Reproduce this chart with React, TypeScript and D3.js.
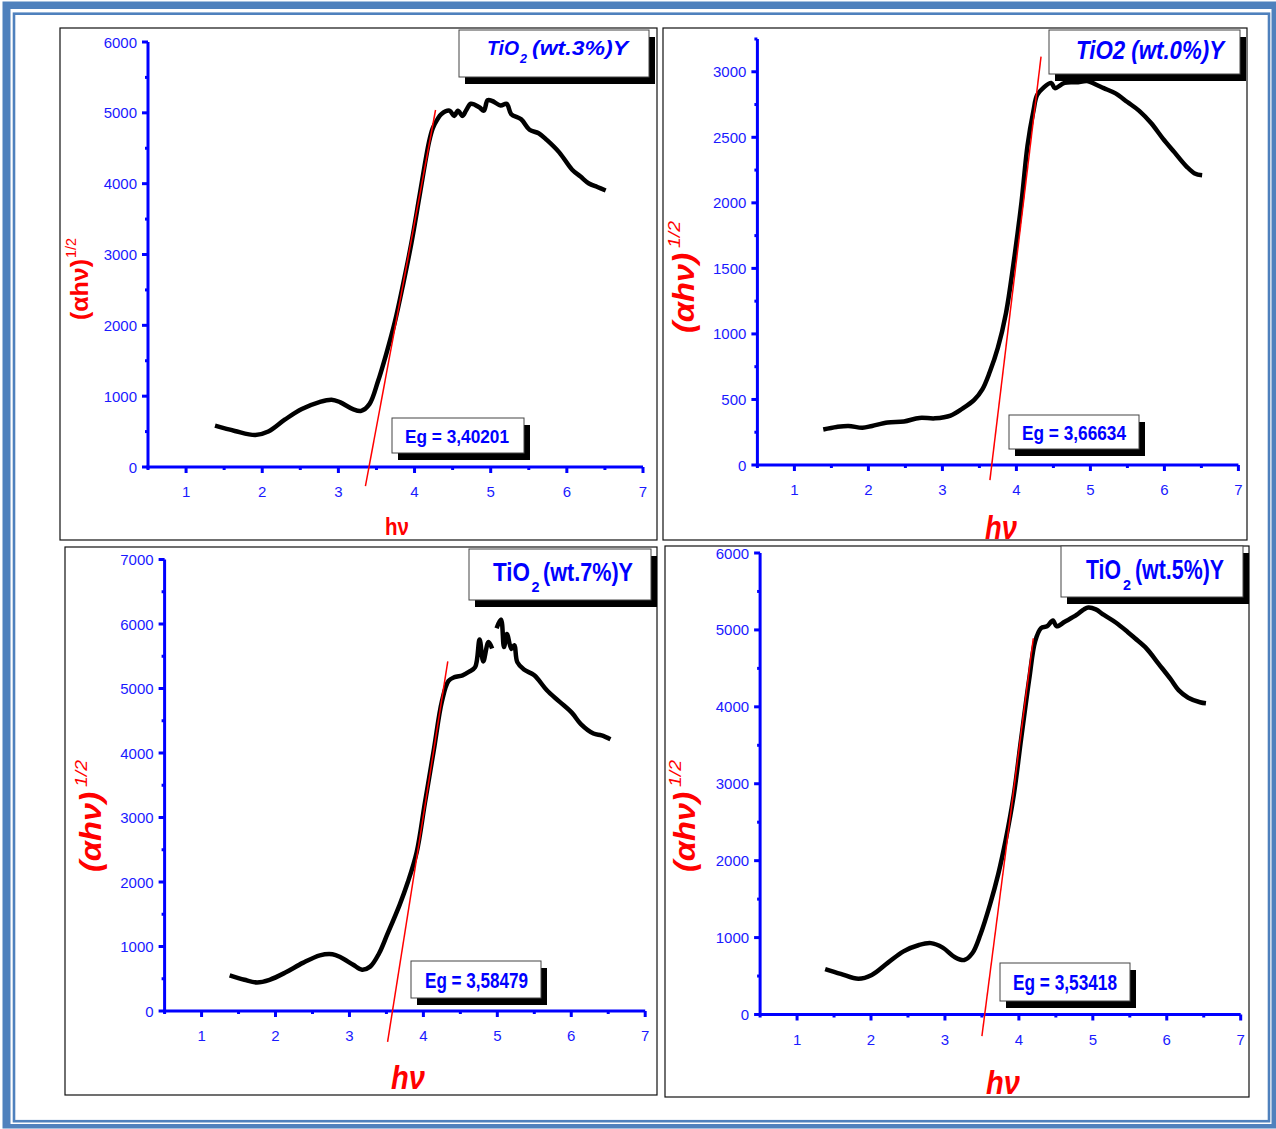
import React from 'react';
import * as d3 from 'd3';

// ---------- DATA ----------
const xTicks = [1, 2, 3, 4, 5, 6, 7];

// TiO2 (wt.3%)Y
const hv3 = [1.38, 1.64, 1.91, 2.08, 2.30, 2.52, 2.75, 2.91, 3.02, 3.19, 3.30, 3.41, 3.52, 3.63, 3.74, 3.85, 3.96, 4.07, 4.19, 4.24, 4.30, 4.35, 4.46, 4.52, 4.57, 4.63, 4.68, 4.74, 4.85, 4.91, 4.96, 5.02, 5.13, 5.21, 5.27, 5.40, 5.51, 5.63, 5.74, 5.90, 6.07, 6.18, 6.29, 6.40, 6.51];
const val3 = [583, 509, 451, 500, 671, 818, 916, 950, 916, 818, 793, 891, 1210, 1602, 2042, 2581, 3169, 3855, 4589, 4785, 4908, 4981, 5030, 4957, 5030, 4957, 5040, 5128, 5079, 5030, 5177, 5167, 5104, 5128, 4981, 4908, 4761, 4712, 4614, 4442, 4197, 4100, 4002, 3953, 3904];
const yTicks3 = [0, 1000, 2000, 3000, 4000, 5000, 6000];
const fitX3 = [3.355, 4.276];
const fitY3 = [-270, 5040];
const eg3 = 'Eg = 3,40201';

// TiO2 (wt.0%)Y
const hv0 = [1.39, 1.57, 1.73, 1.92, 2.05, 2.26, 2.48, 2.69, 2.90, 3.11, 3.27, 3.43, 3.54, 3.64, 3.75, 3.86, 3.96, 4.07, 4.15, 4.23, 4.28, 4.36, 4.47, 4.52, 4.65, 4.81, 4.97, 5.08, 5.18, 5.34, 5.50, 5.66, 5.82, 5.98, 6.14, 6.30, 6.41, 6.51];
const val0 = [271, 290, 298, 284, 298, 324, 332, 359, 356, 377, 430, 497, 577, 709, 895, 1161, 1533, 2011, 2436, 2702, 2822, 2875, 2915, 2875, 2915, 2920, 2928, 2901, 2875, 2835, 2769, 2702, 2609, 2490, 2383, 2277, 2224, 2211];
const yTicks0 = [0, 500, 1000, 1500, 2000, 2500, 3000];
const fitX0 = [3.642, 4.333];
const fitY0 = [-115, 3115];
const eg0 = 'Eg = 3,66634';

// TiO2 (wt.7%)Y  (null = gap in the recorded curve)
const hv7 = [1.38, 1.58, 1.75, 1.92, 2.14, 2.37, 2.60, 2.77, 2.88, 3.05, 3.17, 3.28, 3.40, 3.51, 3.68, 3.79, 3.91, 4.02, 4.14, 4.25, 4.34, 4.42, 4.53, 4.62, 4.70, 4.76, 4.81, 4.88, 4.93, 4.96, 4.99, 5.05, 5.09, 5.13, 5.19, 5.23, 5.27, 5.36, 5.50, 5.67, 5.84, 6.01, 6.13, 6.30, 6.41, 6.53];
const val7 = [554, 484, 443, 484, 600, 746, 863, 880, 834, 717, 641, 688, 892, 1183, 1650, 1999, 2466, 3223, 4040, 4797, 5118, 5176, 5205, 5260, 5330, 5759, 5420, 5720, 5620, null, 5934, 6068, 5642, 5846, 5613, 5672, 5409, 5293, 5205, 4972, 4797, 4622, 4448, 4302, 4273, 4214];
const yTicks7 = [0, 1000, 2000, 3000, 4000, 5000, 6000, 7000];
const fitX7 = [3.516, 4.33];
const fitY7 = [-478, 5421];
const eg7 = 'Eg = 3,58479';

// TiO2 (wt.5%)Y
const hv5 = [1.38, 1.59, 1.83, 2.01, 2.23, 2.44, 2.65, 2.81, 2.97, 3.13, 3.26, 3.37, 3.48, 3.61, 3.72, 3.82, 3.93, 4.03, 4.14, 4.22, 4.30, 4.38, 4.46, 4.51, 4.62, 4.78, 4.88, 4.94, 5.04, 5.15, 5.31, 5.47, 5.57, 5.73, 5.89, 6.05, 6.16, 6.29, 6.45, 6.53];
const val5 = [591, 528, 464, 513, 674, 821, 904, 928, 870, 748, 708, 796, 1041, 1432, 1822, 2262, 2849, 3581, 4363, 4852, 5023, 5047, 5121, 5047, 5106, 5194, 5267, 5291, 5267, 5194, 5096, 4974, 4891, 4754, 4559, 4363, 4217, 4119, 4060, 4046];
const yTicks5 = [0, 1000, 2000, 3000, 4000, 5000, 6000];
const fitX5 = [3.50, 4.195];
const fitY5 = [-280, 4891];
const eg5 = 'Eg = 3,53418';

// ---------- LAYOUT ----------
const BLUE = '#0000ff';
const LBLUE = '#1a1aff';
const RED = '#ff0000';
const FONT = "'Liberation Sans', Arial, Helvetica, sans-serif";

type Part = { t: string; x: number; len: number; base: number; size: number; vs: number };
type Cfg = {
  frame: [number, number, number, number];
  xl: number; xr: number; yb: number; yt: number; ymax: number; minorStep: number;
  hv: number[]; vals: (number | null)[]; yTicks: number[];
  fitX: number[]; fitY: number[]; eg: string;
  titleItalic: boolean; titleParts: Part[];
  tbox: [number, number, number, number];
  ebox: [number, number, number, number];
  egText: { x: number; len: number; base: number; size: number };
  ylab: { italic: boolean; size: number; bx: number; y0: number; len: number; ssize: number; sbx: number; sy0: number; slen: number };
  xlab: { italic: boolean; size: number; cx: number; base: number; len: number };
};

const panels: Cfg[] = [
  {
    frame: [60, 28, 657, 540], xl: 148, xr: 643, yb: 467, yt: 42, ymax: 6000, minorStep: 500,
    hv: hv3, vals: val3, yTicks: yTicks3, fitX: fitX3, fitY: fitY3, eg: eg3,
    titleItalic: true,
    titleParts: [
      { t: 'TiO', x: 487, len: 32, base: 55, size: 19, vs: 1.1 },
      { t: '2', x: 520, len: 7, base: 63, size: 12, vs: 1.1 },
      { t: '(wt.3%)Y', x: 532, len: 96, base: 55, size: 21, vs: 1 },
    ],
    tbox: [459, 30, 190, 47], ebox: [392, 418, 132, 35],
    egText: { x: 405, len: 104, base: 443, size: 19 },
    ylab: { italic: false, size: 23, bx: 88, y0: 320, len: 61, ssize: 14, sbx: 76, sy0: 258, slen: 20 },
    xlab: { italic: false, size: 24, cx: 397, base: 535, len: 24 },
  },
  {
    frame: [663, 28, 1247, 540], xl: 757.4, xr: 1238.4, yb: 465, yt: 39, ymax: 3250, minorStep: 250,
    hv: hv0, vals: val0, yTicks: yTicks0, fitX: fitX0, fitY: fitY0, eg: eg0,
    titleItalic: true,
    titleParts: [{ t: 'TiO2 (wt.0%)Y', x: 1076, len: 148, base: 59, size: 25, vs: 1 }],
    tbox: [1049, 30, 191, 44], ebox: [1009, 415, 130, 34],
    egText: { x: 1022, len: 104, base: 440, size: 21 },
    ylab: { italic: true, size: 29, bx: 694, y0: 333, len: 80, ssize: 17, sbx: 680, sy0: 248, slen: 27 },
    xlab: { italic: true, size: 33, cx: 1001, base: 539, len: 32 },
  },
  {
    frame: [65, 547, 657, 1095], xl: 164.6, xr: 645.2, yb: 1011, yt: 559.5, ymax: 7000, minorStep: 500,
    hv: hv7, vals: val7, yTicks: yTicks7, fitX: fitX7, fitY: fitY7, eg: eg7,
    titleItalic: false,
    titleParts: [
      { t: 'TiO', x: 493, len: 37, base: 581, size: 22, vs: 1.18 },
      { t: '2', x: 531.5, len: 8, base: 592, size: 14, vs: 1.1 },
      { t: '(wt.7%)Y', x: 543, len: 90, base: 581, size: 21.5, vs: 1.2 },
    ],
    tbox: [469, 549, 182, 51], ebox: [411, 961, 130, 37],
    egText: { x: 425, len: 103, base: 988, size: 22 },
    ylab: { italic: true, size: 29, bx: 101, y0: 872, len: 80, ssize: 17, sbx: 87, sy0: 787, slen: 27 },
    xlab: { italic: true, size: 33, cx: 408, base: 1089, len: 34 },
  },
  {
    frame: [665, 546, 1249, 1097], xl: 760.1, xr: 1240.7, yb: 1014.5, yt: 553, ymax: 6000, minorStep: 500,
    hv: hv5, vals: val5, yTicks: yTicks5, fitX: fitX5, fitY: fitY5, eg: eg5,
    titleItalic: false,
    titleParts: [
      { t: 'TiO', x: 1086, len: 35, base: 579, size: 21, vs: 1.28 },
      { t: '2', x: 1123, len: 8, base: 590, size: 14, vs: 1.1 },
      { t: '(wt.5%)Y', x: 1135, len: 89, base: 579, size: 21, vs: 1.28 },
    ],
    tbox: [1061, 546, 182, 51], ebox: [1000, 963, 130, 38],
    egText: { x: 1013, len: 104, base: 990, size: 22 },
    ylab: { italic: true, size: 29, bx: 695, y0: 872, len: 80, ssize: 17, sbx: 681, sy0: 787, slen: 27 },
    xlab: { italic: true, size: 33, cx: 1003, base: 1094, len: 34 },
  },
];

function Panel({ p }: { p: Cfg }) {
  const x = d3.scaleLinear().domain([0.5, 7]).range([p.xl, p.xr]);
  const y = d3.scaleLinear().domain([0, p.ymax]).range([p.yb, p.yt]);
  const pts: [number, number | null][] = p.hv.map((h, i) => [h, p.vals[i]]);
  const line = d3
    .line<[number, number | null]>()
    .defined((d) => d[1] != null)
    .x((d) => x(d[0]))
    .y((d) => y(d[1] as number))
    .curve(d3.curveCatmullRom.alpha(0.5));
  const minorX = d3.range(0.5, 7, 1);
  const minorY = d3.range(p.minorStep, p.ymax + 1, p.minorStep).filter((v) => !p.yTicks.includes(v));
  const [fx0, fy0, fx1, fy1] = p.frame;
  const sh = 6;
  return (
    <g>
      <rect x={fx0} y={fy0} width={fx1 - fx0} height={fy1 - fy0} fill="none" stroke="#111" strokeWidth={1.2} />
      {/* axes */}
      <line x1={p.xl} x2={p.xl} y1={y(p.ymax)} y2={p.yb + 1.5} stroke={BLUE} strokeWidth={3} />
      <line x1={p.xl - 1.5} x2={p.xr} y1={p.yb} y2={p.yb} stroke={BLUE} strokeWidth={3} />
      {p.yTicks.map((t) => (
        <g key={'yt' + t}>
          <line x1={p.xl - 6} x2={p.xl} y1={y(t)} y2={y(t)} stroke={BLUE} strokeWidth={3} />
          <text x={p.xl - 11} y={y(t) + 5.5} textAnchor="end" fontSize={15} fill={LBLUE} fontFamily={FONT}>{t}</text>
        </g>
      ))}
      {minorY.map((t) => (
        <line key={'ym' + t} x1={p.xl - 3} x2={p.xl} y1={y(t)} y2={y(t)} stroke={BLUE} strokeWidth={3} />
      ))}
      {xTicks.map((t) => (
        <g key={'xt' + t}>
          <line x1={x(t)} x2={x(t)} y1={p.yb} y2={p.yb + 6} stroke={BLUE} strokeWidth={3} />
          <text x={x(t)} y={p.yb + 30} textAnchor="middle" fontSize={15} fill={LBLUE} fontFamily={FONT}>{t}</text>
        </g>
      ))}
      {minorX.map((t) => (
        <line key={'xm' + t} x1={x(t)} x2={x(t)} y1={p.yb} y2={p.yb + 3} stroke={BLUE} strokeWidth={3} />
      ))}
      {/* curve */}
      <path d={line(pts) || ''} fill="none" stroke="#000" strokeWidth={4.5} strokeLinejoin="round" strokeLinecap="butt" />
      {/* linear fit */}
      <line x1={x(p.fitX[0])} y1={y(p.fitY[0])} x2={x(p.fitX[1])} y2={y(p.fitY[1])} stroke={RED} strokeWidth={1.5} />
      {/* title box */}
      <rect x={p.tbox[0] + sh} y={p.tbox[1] + sh + 1} width={p.tbox[2]} height={p.tbox[3]} fill="#000" />
      <rect x={p.tbox[0]} y={p.tbox[1]} width={p.tbox[2]} height={p.tbox[3]} fill="#fff" stroke="#444" strokeWidth={1} />
      {p.titleParts.map((tp, i) => (
        <text key={'tp' + i} transform={`translate(${tp.x},${tp.base}) scale(1,${tp.vs})`} x={0} y={0}
          fontSize={tp.size} fontWeight="bold"
          fontStyle={p.titleItalic ? 'italic' : 'normal'} fill={BLUE} fontFamily={FONT}
          textLength={tp.len} lengthAdjust="spacingAndGlyphs">{tp.t}</text>
      ))}
      {/* Eg box */}
      <rect x={p.ebox[0] + sh} y={p.ebox[1] + sh + 1} width={p.ebox[2]} height={p.ebox[3]} fill="#000" />
      <rect x={p.ebox[0]} y={p.ebox[1]} width={p.ebox[2]} height={p.ebox[3]} fill="#fff" stroke="#444" strokeWidth={1} />
      <text x={p.egText.x} y={p.egText.base} fontSize={p.egText.size} fontWeight="bold" fill={BLUE} fontFamily={FONT}
        textLength={p.egText.len} lengthAdjust="spacingAndGlyphs">{p.eg}</text>
      {/* y label */}
      <text transform={`translate(${p.ylab.bx},${p.ylab.y0}) rotate(-90)`} fontSize={p.ylab.size} fontWeight="bold"
        fontStyle={p.ylab.italic ? 'italic' : 'normal'} fill={RED} fontFamily={FONT}
        textLength={p.ylab.len} lengthAdjust="spacingAndGlyphs">(αhν)</text>
      <text transform={`translate(${p.ylab.sbx},${p.ylab.sy0}) rotate(-90)`} fontSize={p.ylab.ssize}
        fontStyle={p.ylab.italic ? 'italic' : 'normal'} fill={RED} fontFamily={FONT}
        textLength={p.ylab.slen} lengthAdjust="spacingAndGlyphs">1/2</text>
      {/* x label */}
      <text x={p.xlab.cx - p.xlab.len / 2} y={p.xlab.base} fontSize={p.xlab.size} fontWeight="bold"
        fontStyle={p.xlab.italic ? 'italic' : 'normal'} fill={RED} fontFamily={FONT}
        textLength={p.xlab.len} lengthAdjust="spacingAndGlyphs">hν</text>
    </g>
  );
}

export default function App() {
  const W = 1276;
  const H = 1129;
  const FRAME = '#4f81bd';
  return (
    <svg width={W} height={H} style={{ position: 'absolute', left: 0, top: 0 }} xmlns="http://www.w3.org/2000/svg">
      <rect x={0} y={0} width={W} height={H} fill="#fff" />
      <path
        d={`M2.5,1.5 H1276 V1128.5 H2.5 Z M10.5,9 V1124 H1271.5 V9 Z`}
        fill={FRAME}
        fillRule="evenodd"
      />
      <rect x={14} y={13.7} width={1255} height={1107.5} fill="none" stroke={FRAME} strokeWidth={2.6} />
      {panels.map((p, i) => (
        <Panel key={i} p={p} />
      ))}
    </svg>
  );
}
